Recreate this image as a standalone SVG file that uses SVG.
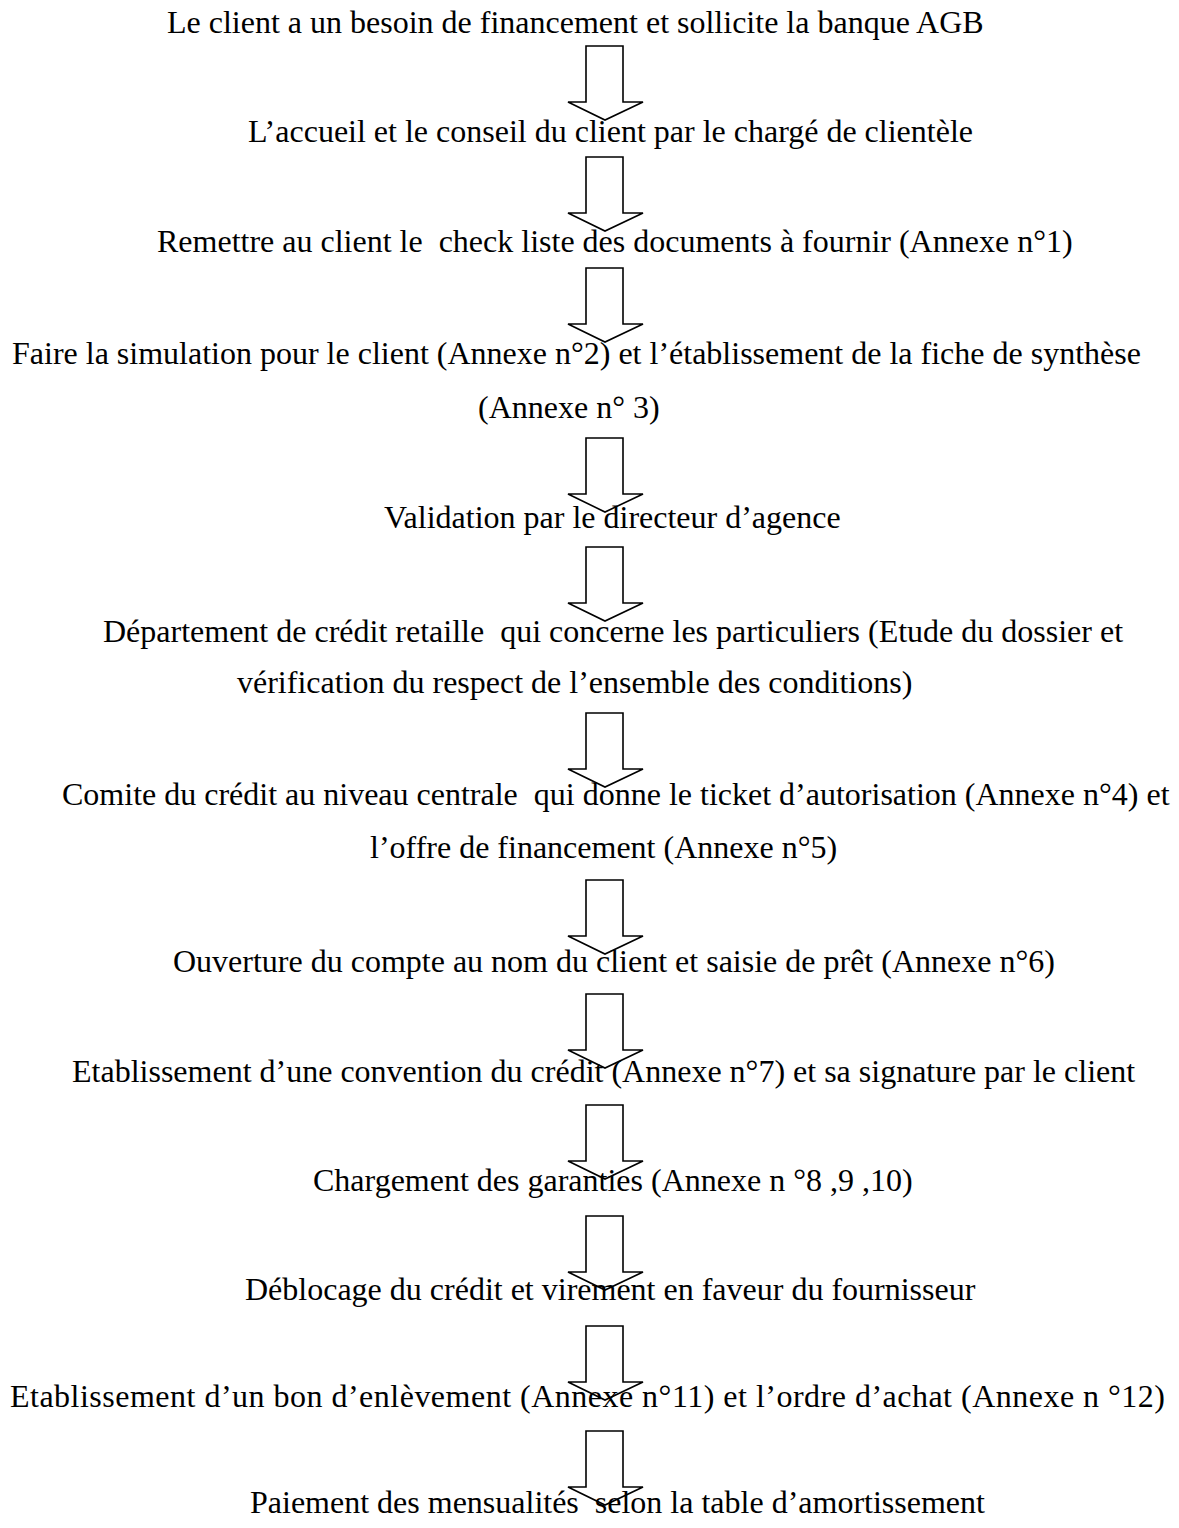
<svg xmlns="http://www.w3.org/2000/svg" width="1179" height="1528" viewBox="0 0 1179 1528">
<style>
.t{font-family:"Liberation Serif","Times New Roman",serif;font-size:32px;fill:#000;white-space:pre}
.a{fill:#fff;stroke:#000;stroke-width:1.6;stroke-linejoin:miter}
</style>
<defs>
<path id="arr" class="a" d="M586,0 H623 V56 H643 L605,74 L568,56 H586 Z"/>
</defs>
<rect width="1179" height="1528" fill="#fff"/>
<g id="connectors">
<use href="#arr" y="46"/>
<use href="#arr" y="157"/>
<use href="#arr" y="268"/>
<use href="#arr" y="438"/>
<use href="#arr" y="547"/>
<use href="#arr" y="713"/>
<use href="#arr" y="880"/>
<use href="#arr" y="994"/>
<use href="#arr" y="1105"/>
<use href="#arr" y="1216"/>
<use href="#arr" y="1326"/>
<use href="#arr" y="1431"/>
</g>
<g id="n1"><text class="t" x="167" y="33">Le client a un besoin de financement et sollicite la banque AGB</text></g>
<g id="n2"><text class="t" x="248" y="142">L’accueil et le conseil du client par le chargé de clientèle</text></g>
<g id="n3"><text class="t" x="157" y="252" xml:space="preserve">Remettre au client le  check liste des documents à fournir (Annexe n°1)</text></g>
<g id="n4"><text class="t" x="12" y="364">Faire la simulation pour le client (Annexe n°2) et l’établissement de la fiche de synthèse</text><text class="t" x="478" y="418">(Annexe n° 3)</text></g>
<g id="n5"><text class="t" x="384" y="528">Validation par le directeur d’agence</text></g>
<g id="n6"><text class="t" x="103" y="642" xml:space="preserve">Département de crédit retaille  qui concerne les particuliers (Etude du dossier et</text><text class="t" x="237" y="693">vérification du respect de l’ensemble des conditions)</text></g>
<g id="n7"><text class="t" x="62" y="805" xml:space="preserve">Comite du crédit au niveau centrale  qui donne le ticket d’autorisation (Annexe n°4) et</text><text class="t" x="370" y="858">l’offre de financement (Annexe n°5)</text></g>
<g id="n8"><text class="t" x="173" y="972">Ouverture du compte au nom du client et saisie de prêt (Annexe n°6)</text></g>
<g id="n9"><text class="t" x="72" y="1082">Etablissement d’une convention du crédit (Annexe n°7) et sa signature par le client</text></g>
<g id="n10"><text class="t" x="313" y="1191">Chargement des garanties (Annexe n °8 ,9 ,10)</text></g>
<g id="n11"><text class="t" x="245" y="1300">Déblocage du crédit et virement en faveur du fournisseur</text></g>
<g id="n12"><text class="t" x="10" y="1407" textLength="1155" lengthAdjust="spacing">Etablissement d’un bon d’enlèvement (Annexe n°11) et l’ordre d’achat (Annexe n °12)</text></g>
<g id="n13"><text class="t" x="250" y="1513" xml:space="preserve">Paiement des mensualités  selon la table d’amortissement</text></g>
</svg>
